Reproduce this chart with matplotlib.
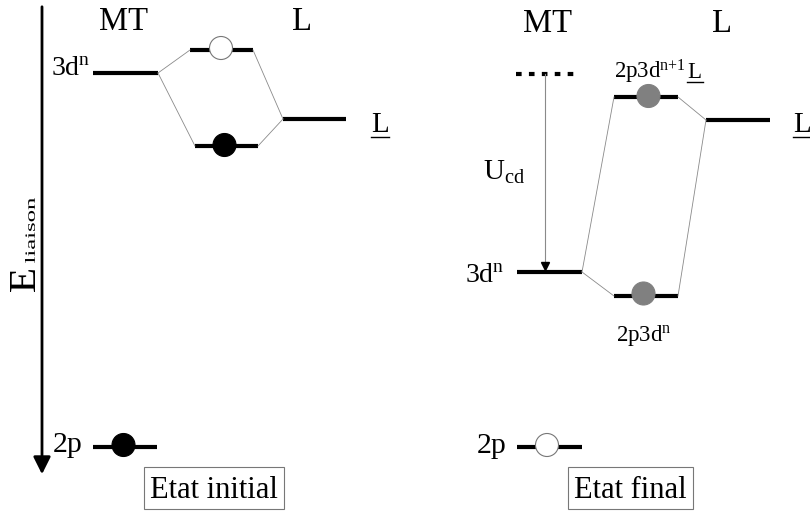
import matplotlib
matplotlib.use('Agg')
import matplotlib.pyplot as plt
from matplotlib.patches import Circle, Rectangle, PathPatch
from matplotlib.textpath import TextPath
from matplotlib.font_manager import FontProperties
from matplotlib.transforms import Affine2D

plt.rcParams['font.family'] = ['Liberation Serif', 'DejaVu Serif']
plt.rcParams['mathtext.fontset'] = 'custom'
plt.rcParams['mathtext.rm'] = 'Liberation Serif'
plt.rcParams['mathtext.it'] = 'Liberation Serif:italic'

# niveaux d'énergie (position verticale, en pixels de la figure)
E_init_MT = [73, 447]        # 3d^n, 2p
E_init_mix = [50, 146]       # anti-liant, liant
E_init_L = [119]
E_final_MT = [74, 272, 447]  # 3d^n (avant Ucd), 3d^n, 2p
E_final_mix = [97, 296]      # 2p3d^(n+1)L, 2p3d^n
E_final_L = [120]

W, H = 810, 511
fig = plt.figure(figsize=(W / 100, H / 100), dpi=100)
ax = fig.add_axes([0, 0, 1, 1])
ax.set_xlim(0, W)
ax.set_ylim(H, 0)
ax.axis('off')

LW = 3
thin = dict(color='#8a8a8a', lw=0.6)
fp = FontProperties(family='Liberation Serif')


def level(x0, x1, y, **kw):
    ax.plot([x0, x1], [y, y], color='k', lw=LW, solid_capstyle='butt', **kw)


def dot(x, y, fc):
    ax.add_patch(Circle((x, y), 11.5, facecolor=fc, edgecolor='#777' if fc == 'white' else fc,
                        lw=0.8, zorder=5))


def underline(x0, x1, y):
    ax.plot([x0, x1], [y, y], color='k', lw=1)


def vtext(s, xl, xr, yt, yb):
    # texte vertical (de bas en haut) étiré dans une boîte
    tp = TextPath((0, 0), s, size=20, prop=fp)
    bb = tp.get_extents()
    su = (yb - yt) / bb.width
    sv = (xr - xl) / bb.height
    tr = Affine2D.from_values(0, -su, -sv, 0, xr + bb.y0 * sv, yb + bb.x0 * su)
    ax.add_patch(PathPatch(tr.transform_path(tp), fc='k', ec='none'))


def box(x0, x1, y0, y1, s):
    ax.add_patch(Rectangle((x0, y0), x1 - x0, y1 - y0, fc='white', ec='#777', lw=0.8))
    ax.text((x0 + x1) / 2, 498, s, fontsize=22, ha='center', va='baseline')


# axe des énergies
ax.annotate('', xy=(42, 477), xytext=(42, 4),
            arrowprops=dict(arrowstyle='-|>', lw=2, color='k', mutation_scale=26))
vtext('E', 10, 35, 270, 292)
vtext('liaison', 25, 35, 198, 263)

# ---- état initial ----
ax.text(123, 30, 'MT', fontsize=23.5, ha='center', va='baseline')
ax.text(302, 30, 'L', fontsize=23.5, ha='center', va='baseline')

level(93, 158, E_init_MT[0])
ax.text(90, 75, '3d$^{\\rm n}$', fontsize=20, ha='right', va='baseline')
level(190, 253, E_init_mix[0])
level(195, 258, E_init_mix[1])
level(283, 346, E_init_L[0])
ax.text(371, 132, 'L', fontsize=21, ha='left', va='baseline')
underline(371, 389, 137)

ax.plot([158, 190], [E_init_MT[0], E_init_mix[0]], **thin)
ax.plot([158, 195], [E_init_MT[0], E_init_mix[1]], **thin)
ax.plot([253, 283], [E_init_mix[0], E_init_L[0]], **thin)
ax.plot([258, 283], [E_init_mix[1], E_init_L[0]], **thin)
dot(221, E_init_mix[0] - 2, 'white')
dot(224.5, E_init_mix[1] - 1, 'black')

level(93, 157, E_init_MT[1])
ax.text(83, 452, '2p', fontsize=21.5, ha='right', va='baseline')
dot(123.5, E_init_MT[1] - 2, 'black')

box(144, 284, 467, 509, 'Etat initial')

# ---- état final ----
ax.text(548, 32, 'MT', fontsize=23.5, ha='center', va='baseline')
ax.text(722, 32, 'L', fontsize=23.5, ha='center', va='baseline')

ax.plot([516, 577], [E_final_MT[0], E_final_MT[0]], color='k', lw=LW,
        linestyle=(0, (1.35, 1.75)), dash_capstyle='butt')
ax.plot([545, 545], [E_final_MT[0], E_final_MT[1] - 6], color='#8a8a8a', lw=0.8)
ax.plot([545], [E_final_MT[1] - 6], marker='v', color='k', markersize=6)
ax.text(483, 180, 'U$_{\\rm cd}$', fontsize=21, ha='left', va='baseline')

level(517, 582, E_final_MT[1])
ax.text(504, 282, '3d$^{\\rm n}$', fontsize=20, ha='right', va='baseline')
level(614, 678, E_final_mix[0])
level(614, 678, E_final_mix[1])
level(706, 770, E_final_L[0])
ax.text(793, 132, 'L', fontsize=21, ha='left', va='baseline')
underline(793, 812, 137)

ax.plot([582, 614], [E_final_MT[1], E_final_mix[0]], **thin)
ax.plot([582, 614], [E_final_MT[1], E_final_mix[1]], **thin)
ax.plot([678, 706], [E_final_mix[0], E_final_L[0]], **thin)
ax.plot([678, 706], [E_final_mix[1], E_final_L[0]], **thin)
dot(648.5, E_final_mix[0] - 1, '#808080')
dot(643.5, E_final_mix[1] - 2.5, '#808080')

ax.text(686, 78, '2p3d$^{\\rm n{+}1}$', fontsize=16.5, ha='right', va='baseline')
ax.text(687, 78, 'L', fontsize=16.5, ha='left', va='baseline')
underline(687, 703, 82)
ax.text(644, 341, '2p3d$^{\\rm n}$', fontsize=16.5, ha='center', va='baseline')

level(517, 582, E_final_MT[2])
ax.text(507, 453, '2p', fontsize=21.5, ha='right', va='baseline')
dot(547, E_final_MT[2] - 2, 'white')

box(568, 693, 467, 509, 'Etat final')

fig.savefig('out.png', dpi=100)
